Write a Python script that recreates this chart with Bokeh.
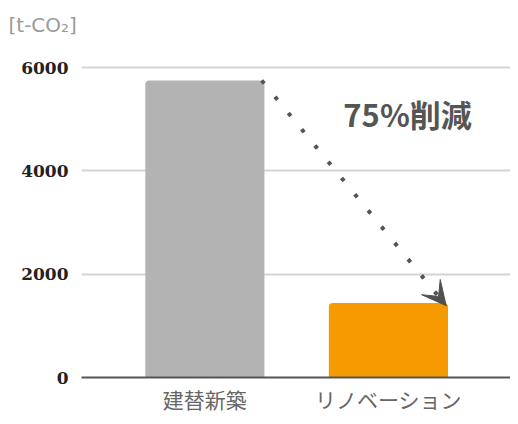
from bokeh.plotting import figure
from bokeh.models import Range1d, FixedTicker, Label, Arrow, VeeHead, ColumnDataSource
from bokeh.embed import file_html
from bokeh.resources import INLINE

categories = ["建替新築", "リノベーション"]
values = [5750, 1440]
colors = ["#B3B3B3", "#F59A00"]
y_ticks = [0, 2000, 4000, 6000]
unit_label = "[t-CO₂]"
reduction_label = "75%削減"

xs = list(range(len(categories)))
bar_w = 0.649

src = ColumnDataSource(dict(x=xs, top=values, color=colors))

p = figure(width=510, height=416, output_backend="svg", toolbar_location=None,
           x_range=Range1d(-0.672, 1.665), y_range=Range1d(0, 6600),
           min_border_left=81, min_border_right=0, min_border_top=36, min_border_bottom=39)
p.outline_line_color = None
p.background_fill_color = "white"
p.border_fill_color = "white"

p.title.text = unit_label
p.title.align = "left"
p.title.offset = -73
p.title.standoff = 0
p.title.text_font = "DejaVu Sans"
p.title.text_font_style = "normal"
p.title.text_font_size = "20px"
p.title.text_color = "#9a9a9a"

p.vbar(x="x", top="top", width=bar_w, color="color", source=src, line_color=None,
       border_radius=dict(top_left=4, top_right=4, bottom_right=0, bottom_left=0))

# axes
p.xaxis.ticker = FixedTicker(ticks=xs)
p.xaxis.major_label_overrides = {i: c for i, c in enumerate(categories)}
p.xaxis.axis_line_color = "#555555"
p.xaxis.axis_line_width = 2
p.xaxis.major_tick_line_color = None
p.xaxis.major_tick_out = 0
p.xaxis.major_tick_in = 0
p.xaxis.minor_tick_line_color = None
p.xaxis.major_label_text_font = "Noto Sans CJK JP"
p.xaxis.major_label_text_font_size = "21px"
p.xaxis.major_label_text_color = "#666666"
p.xaxis.major_label_standoff = 6

p.yaxis.ticker = FixedTicker(ticks=y_ticks)
p.yaxis.axis_line_color = None
p.yaxis.major_tick_line_color = None
p.yaxis.major_tick_out = 0
p.yaxis.major_tick_in = 0
p.yaxis.minor_tick_line_color = None
p.yaxis.major_label_text_font = "DejaVu Serif"
p.yaxis.major_label_text_font_style = "bold"
p.yaxis.major_label_text_font_size = "17px"
p.yaxis.major_label_text_color = "#222222"
p.yaxis.major_label_standoff = 13

p.xgrid.grid_line_color = None
p.ygrid.ticker = FixedTicker(ticks=y_ticks)
p.ygrid.grid_line_color = "#d4d4d4"
p.ygrid.grid_line_width = 1.8

# arrow
head = VeeHead(size=24, fill_color="#505050", line_color="#505050", line_width=1)
p.add_layout(Arrow(end=head, x_start=xs[0] + bar_w / 2 - 0.015, y_start=values[0],
                   x_end=xs[1] + bar_w / 2 - 0.01, y_end=values[1] - 50,
                   line_color="#555555", line_width=4, line_dash="4 17"))

p.add_layout(Label(x=1.104, y=5110, text=reduction_label, text_align="center",
                   text_baseline="middle", text_font="Noto Sans CJK JP",
                   text_font_style="bold", text_font_size="31px", text_color="#555555"))

open("out.html", "w").write(file_html(p, INLINE))
